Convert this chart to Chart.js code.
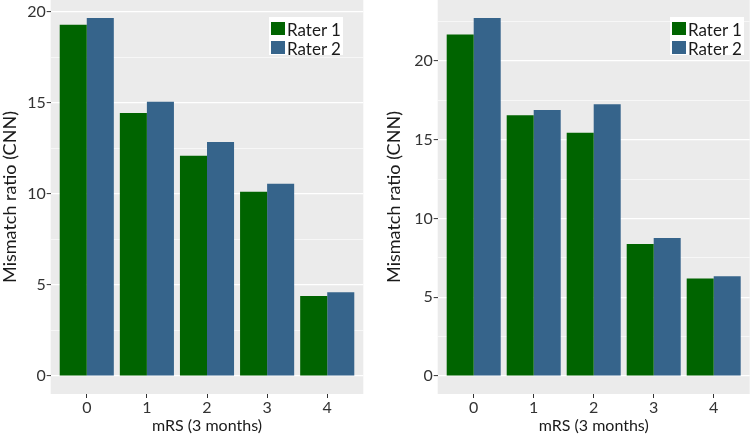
<!DOCTYPE html>
<html>
<head>
<meta charset="utf-8">
<script src="https://cdn.jsdelivr.net/npm/chart.js@4/dist/chart.umd.min.js"></script>
<style>
    body{margin:0;background:#fff;font-family:Lato,sans-serif;}
    #wrap{position:relative;width:750px;height:436px;overflow:hidden;}
    canvas{position:absolute;top:0;}
    .legend{position:absolute;top:17px;width:74px;height:38px;background:#fff;}
    .legend div{position:absolute;left:18px;font-size:17px;line-height:17px;color:#1a1a1a;}
    .legend span{position:absolute;left:-16px;top:1px;width:14px;height:13px;}
</style>
</head>
<body>
<div id="wrap">
    <canvas id="left" width="372" height="436" style="left:0"></canvas>
    <canvas id="right" width="375" height="436" style="left:375px"></canvas>
    <div class="legend" style="left:269px">
        <div style="top:4px"><span style="background:#006400"></span>Rater 1</div>
        <div style="top:23px"><span style="background:#36648B"></span>Rater 2</div>
    </div>
    <div class="legend" style="left:670px">
        <div style="top:4px"><span style="background:#006400"></span>Rater 1</div>
        <div style="top:23px"><span style="background:#36648B"></span>Rater 2</div>
    </div>
</div>
<script>
const categories = ["0","1","2","3","4"];
const seriesNames = ["Rater 1","Rater 2"];

const leftRater1 = [19.3,14.45,12.1,10.13,4.4];
const leftRater2 = [19.68,15.07,12.86,10.57,4.6];
const rightRater1 = [21.67,16.55,15.45,8.38,6.2];
const rightRater2 = [22.73,16.89,17.25,8.76,6.33];

const leftTicks = [0,2.5,5,7.5,10,12.5,15,17.5,20];
const rightTicks = [0,2.5,5,7.5,10,12.5,15,17.5,20,22.5];

const colors = ["#006400","#36648B"];
const font = "Lato";

const panelBg = {
    id:"panelBg",
    beforeDraw(chart){
        const a = chart.chartArea;
        const c = chart.ctx;
        c.save();
        c.fillStyle = "#EBEBEB";
        c.fillRect(a.left,a.top,a.right-a.left,a.bottom-a.top);
        c.restore();
    }
};

function makeChart(id, r1, r2, yTicks, axisWidth, titlePad, padRight){

    const top = Math.max(...r1,...r2);

    return new Chart(document.getElementById(id),{
        type:"bar",
        data:{
            datasets:[r1,r2].map((arr,k)=>({
                label:seriesNames[k],
                data:arr.map((v,i)=>({x:i,y:v})),
                backgroundColor:colors[k],
                borderWidth:0,
                categoryPercentage:0.9,
                barPercentage:1.0
            }))
        },
        options:{
            responsive:false,
            animation:false,
            devicePixelRatio:1,
            layout:{padding:{left:0,right:padRight,top:0,bottom:0}},
            plugins:{legend:{display:false},tooltip:{enabled:false}},
            scales:{
                x:{
                    type:"linear",
                    offset:false,
                    min:-0.6,
                    max:categories.length-0.4,
                    afterBuildTicks:s=>{s.ticks = categories.map((c,i)=>({value:i}));},
                    afterFit:s=>{s.height = 42; s.paddingLeft = 0; s.paddingRight = 0;},
                    border:{display:false},
                    grid:{offset:false,drawOnChartArea:false,drawTicks:true,tickLength:4,tickColor:"#333",tickWidth:1},
                    ticks:{
                        padding:0,
                        color:"#333",
                        font:{family:font,size:16},
                        callback:v=>categories[v]
                    },
                    title:{
                        display:true,
                        text:"mRS (3 months)",
                        color:"#1a1a1a",
                        font:{family:font,size:16},
                        padding:{top:0,bottom:0.5}
                    }
                },
                y:{
                    min:-0.05*top,
                    max:1.05*top,
                    afterBuildTicks:s=>{s.ticks = yTicks.map(v=>({value:v}));},
                    afterFit:s=>{s.width = axisWidth; s.paddingTop = 0; s.paddingBottom = 0;},
                    border:{display:false},
                    grid:{
                        color:"#fff",
                        lineWidth:c=>c.tick && c.tick.value%5===0 ? 1.2 : 0.6,
                        tickColor:c=>c.tick && c.tick.value%5===0 ? "#333" : "rgba(0,0,0,0)",
                        tickLength:4,
                        tickWidth:1
                    },
                    ticks:{
                        padding:1,
                        color:"#333",
                        font:{family:font,size:16},
                        callback:v=>v%5===0 ? String(v) : ""
                    },
                    title:{
                        display:true,
                        text:"Mismatch ratio (CNN)",
                        color:"#1a1a1a",
                        font:{family:font,size:18},
                        padding:{top:titlePad,bottom:0}
                    }
                }
            }
        },
        plugins:[panelBg]
    });
}

makeChart("left",leftRater1,leftRater2,leftTicks,50.7,-1,8.7);
makeChart("right",rightRater1,rightRater2,rightTicks,62.7,8,0.3);
</script>
</body>
</html>
